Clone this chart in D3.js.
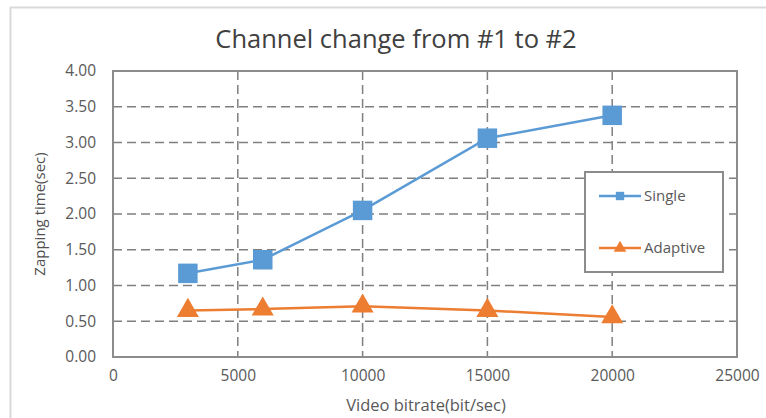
<!DOCTYPE html>
<html>
<head>
<meta charset="utf-8">
<script src="https://cdn.jsdelivr.net/npm/d3@7"></script>
<style>
  body { margin: 0; background: #fff; }
  svg { display: block; font-family: "Open Sans", sans-serif; }
</style>
</head>
<body>
<div class="chart-container"></div>
<script>
const bitrates = [3000, 6000, 10000, 15000, 20000]
const singleTimes = [1.17, 1.36, 2.05, 3.06, 3.38]
const adaptiveTimes = [0.65, 0.67, 0.71, 0.65, 0.56]
const xTicks = [0, 5000, 10000, 15000, 20000, 25000]
const yTicks = [0, 0.5, 1, 1.5, 2, 2.5, 3, 3.5, 4]
const seriesNames = ['Single', 'Adaptive']

const size = { width: 766, height: 418 }
const plot = { left: 113, right: 737, top: 71, bottom: 357 }
const colors = { Single: '#5b9bd5', Adaptive: '#ed7d31' }

const svg = d3.select('.chart-container')
  .append('svg')
  .attr('width', size.width)
  .attr('height', size.height)

// outer frame (only top and left edges visible in the picture)
svg.append('path')
  .attr('d', `M10.5,${size.height} L10.5,7.5 L${size.width},7.5`)
  .attr('fill', 'none')
  .attr('stroke', '#d9d9d9')
  .attr('stroke-width', 2)

const x = d3.scaleLinear().domain([0, 25000]).range([plot.left, plot.right])
const y = d3.scaleLinear().domain([0, 4]).range([plot.bottom, plot.top])

// grid
const grid = svg.append('g')
grid.selectAll('.hgrid')
  .data(yTicks.filter((d) => d > 0 && d < 4))
  .enter()
  .append('line')
  .attr('x1', plot.left).attr('x2', plot.right)
  .attr('y1', (d) => y(d)).attr('y2', (d) => y(d))
  .attr('stroke', '#7f7f7f')
  .attr('stroke-width', 1.5)
  .attr('stroke-dasharray', '9,5')

grid.selectAll('.vgrid')
  .data(xTicks.filter((d) => d > 0 && d < 25000))
  .enter()
  .append('line')
  .attr('x1', (d) => x(d)).attr('x2', (d) => x(d))
  .attr('y1', plot.top).attr('y2', plot.bottom)
  .attr('stroke', '#7f7f7f')
  .attr('stroke-width', 1.5)
  .attr('stroke-dasharray', '9,5')

// plot border
svg.append('rect')
  .attr('x', plot.left).attr('y', plot.top)
  .attr('width', plot.right - plot.left)
  .attr('height', plot.bottom - plot.top)
  .attr('fill', 'none')
  .attr('stroke', '#8c8c8c')
  .attr('stroke-width', 2)

// axes (labels only)
const xAxis = svg.append('g')
  .attr('transform', `translate(0, ${plot.bottom})`)
  .call(d3.axisBottom(x).tickValues(xTicks).tickFormat(d3.format('d')).tickSize(0).tickPadding(13))
const yAxis = svg.append('g')
  .attr('transform', `translate(${plot.left}, 0)`)
  .call(d3.axisLeft(y).tickValues(yTicks).tickFormat(d3.format('.2f')).tickSize(0).tickPadding(17))
;[xAxis, yAxis].forEach((a) => {
  a.select('.domain').remove()
  a.selectAll('text')
    .attr('fill', '#595959')
    .style('font-size', '15.5px')
    .style('font-family', '"Open Sans", sans-serif')
})

// titles
svg.append('text')
  .text('Channel change from #1 to #2')
  .attr('x', 396).attr('y', 48)
  .attr('text-anchor', 'middle')
  .attr('fill', '#404040')
  .style('font-size', '25.5px')

svg.append('text')
  .text('Video bitrate(bit/sec)')
  .attr('x', 426).attr('y', 411)
  .attr('text-anchor', 'middle')
  .attr('fill', '#595959')
  .style('font-size', '16.5px')

svg.append('text')
  .text('Zapping time(sec)')
  .attr('transform', 'translate(45, 214) rotate(-90)')
  .attr('text-anchor', 'middle')
  .attr('fill', '#505050')
  .style('font-size', '15px')

// series
const series = [
  { name: 'Single', values: singleTimes, symbol: d3.symbolSquare, area: 380 },
  { name: 'Adaptive', values: adaptiveTimes, symbol: d3.symbolTriangle, area: 210 },
]

const line = d3.line()
  .x((d) => x(d[0]))
  .y((d) => y(d[1]))

series.forEach((s) => {
  const pts = bitrates.map((b, i) => [b, s.values[i]])
  svg.append('path')
    .attr('d', line(pts))
    .attr('fill', 'none')
    .attr('stroke', colors[s.name])
    .attr('stroke-width', 2.5)
  svg.selectAll(`.m-${s.name}`)
    .data(pts)
    .enter()
    .append('path')
    .attr('d', d3.symbol().type(s.symbol).size(s.area))
    .attr('transform', (d) => `translate(${x(d[0])}, ${y(d[1])})`)
    .attr('fill', colors[s.name])
})

// legend
const legend = svg.append('g').attr('transform', 'translate(585, 172)')
legend.append('rect')
  .attr('width', 138).attr('height', 100)
  .attr('fill', '#fff')
  .attr('stroke', '#8c8c8c')
  .attr('stroke-width', 2)

const item = legend.selectAll('.item')
  .data(series)
  .enter()
  .append('g')
  .attr('transform', (d, i) => `translate(0, ${24 + i * 52})`)
item.append('line')
  .attr('x1', 14).attr('x2', 56)
  .attr('stroke', (d) => colors[d.name])
  .attr('stroke-width', 2.5)
item.append('path')
  .attr('d', (d) => d3.symbol().type(d.symbol).size(70)())
  .attr('transform', 'translate(35, 0)')
  .attr('fill', (d) => colors[d.name])
item.append('text')
  .text((d) => d.name)
  .attr('x', 59).attr('y', 5)
  .attr('fill', '#595959')
  .style('font-size', '15px')
</script>
</body>
</html>
